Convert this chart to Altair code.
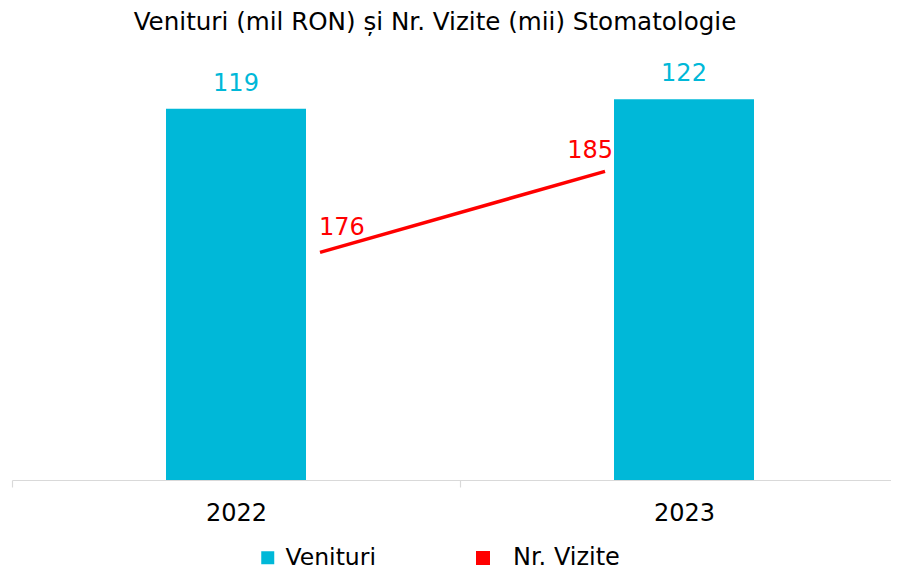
import altair as alt
import pandas as pd

# ---- data ----
years = ["2022", "2023"]
venituri = [119, 122]
vizite = [176, 185]
series_bar = "Venituri"
series_line = "Nr. Vizite"
title_text = "Venituri (mil RON) și Nr. Vizite (mii) Stomatologie"

CYAN = "#00B8D8"
RED = "#FF0000"
FONT = "DejaVu Sans"

bar_df = pd.DataFrame({"an": years, "valoare": venituri, "serie": [series_bar] * len(years)})
line_df = pd.DataFrame({"an": years, "valoare": vizite, "serie": [series_line] * len(years)})

# ---- bar layer ----
x_bar = alt.X(
    "an:N",
    scale=alt.Scale(type="band", range=[0, 896], paddingInner=0, paddingOuter=0),
    axis=alt.Axis(
        title=None, labelAngle=0, tickBand="extent", domainColor="#D9D9D9",
        tickColor="#D9D9D9", tickSize=7, domainWidth=1.2, tickWidth=1.2,
        labelFontSize=24, labelFont=FONT, labelColor="#000000", labelPadding=14,
        grid=False,
    ),
)
y_bar = alt.Y("valoare:Q", scale=alt.Scale(domain=[0, 141], nice=False, zero=True), axis=None)

bars = alt.Chart(bar_df).mark_bar(width=140).encode(
    x=x_bar,
    y=y_bar,
    color=alt.Color(
        "serie:N",
        scale=alt.Scale(domain=[series_bar], range=[CYAN]),
        legend=alt.Legend(
            title=None, orient="none", legendX=244, legendY=506, symbolType="square",
            symbolSize=169, symbolStrokeWidth=0, labelFontSize=23.5, labelFont=FONT,
            labelColor="#000000", labelOffset=6, padding=0,
        ),
    ),
)
bar_text = alt.Chart(bar_df).mark_text(
    dy=-18, baseline="alphabetic", fontSize=24, font=FONT, color=CYAN
).encode(x=x_bar, y=y_bar, text="valoare:Q")

bar_layer = alt.layer(bars, bar_text)

# ---- line layer (secondary axis) ----
x_line = alt.X(
    "an:N",
    scale=alt.Scale(type="band", range=[0, 896], paddingInner=0, paddingOuter=0.572, align=0.5077),
    axis=None,
)
y_line = alt.Y("valoare:Q", scale=alt.Scale(domain=[150.7, 199.6], nice=False, zero=False), axis=None)

line = alt.Chart(line_df).mark_line(strokeWidth=3.5, strokeCap="butt").encode(
    x=x_line,
    y=y_line,
    color=alt.Color(
        "serie:N",
        scale=alt.Scale(domain=[series_line], range=[RED]),
        legend=alt.Legend(
            title=None, orient="none", legendX=459, legendY=506, symbolType="square",
            symbolSize=49, symbolStrokeWidth=7, symbolFillColor=RED,
            labelFontSize=24, labelFont=FONT, labelColor="#000000", labelOffset=18,
            padding=0,
        ),
    ),
)
lt1 = alt.Chart(line_df).transform_filter(alt.datum.an == years[0]).mark_text(
    align="left", dx=-1, dy=-17, baseline="alphabetic", fontSize=24, font=FONT, color=RED
).encode(x=x_line, y=y_line, text="valoare:Q")
lt2 = alt.Chart(line_df).transform_filter(alt.datum.an == years[1]).mark_text(
    align="right", dx=8, dy=-13, baseline="alphabetic", fontSize=24, font=FONT, color=RED
).encode(x=x_line, y=y_line, text="valoare:Q")

line_layer = alt.layer(line, lt1, lt2)

chart = (
    alt.layer(bar_layer, line_layer)
    .resolve_scale(x="independent", y="independent", color="independent")
    .properties(
        width=879,
        height=440,
        title=alt.TitleParams(
            text=title_text, font=FONT, fontSize=24.6, fontWeight="normal",
            color="#000000", anchor="middle", dx=-16.5, baseline="alphabetic", offset=-15,
        ),
        autosize=alt.AutoSizeParams(type="none"),
        padding={"left": 4, "top": 32, "right": 0, "bottom": 89},
    )
    .configure(background="white", view=alt.ViewConfig(stroke=None))
)

chart.save("out.html", embed_options={"renderer": "svg", "actions": False})
